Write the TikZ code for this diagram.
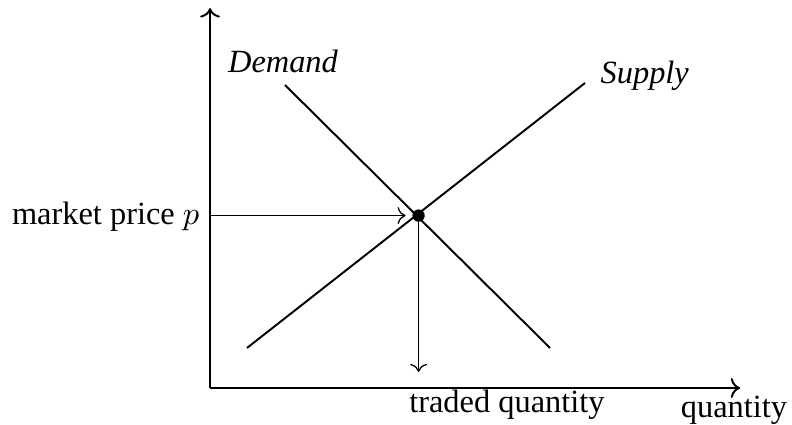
\documentclass[tikz,border=0pt]{standalone}
\usepackage{fontspec}
\setmainfont{Liberation Serif}
\usepackage{tikz}
\usetikzlibrary{arrows.meta}

\begin{document}
\begin{tikzpicture}[every node/.style={font=\normalsize, inner sep=0pt}, axis/.style={semithick, ->}, curve/.style={semithick}, guide/.style={->}]
	\useasboundingbox (-2.278,-0.401) rectangle (6.312,4.208);
	\coordinate (O) at (0,0);
	\coordinate (ytop) at (0,4.12);
	\coordinate (xend) at (5.75,0);
	\coordinate (E) at (2.262,1.87);
	% axes
	\draw[axis] (O) -- (ytop);
	\draw[axis] (O) -- (xend);
	\node[anchor=base] (qlabel) at (5.683,-0.315) {quantity};
	% demand and supply
	\coordinate (d1) at (0.813,3.286);
	\coordinate (d2) at (3.688,0.434);
	\coordinate (s1) at (0.401,0.434);
	\coordinate (s2) at (4.067,3.308);
	\draw[curve] (d1) -- (d2);
	\draw[curve] (s1) -- (s2);
	\node[anchor=base] (dem) at (0.792,3.427) {\textit{Demand}};
	\node[anchor=base west] (sup) at (4.23,3.3) {\textit{Supply}};
	\fill (E) circle (1.9pt);
	% market price and traded quantity
	\coordinate (pmark) at (O |- E);
	\node[anchor=base east] (price) at (-0.11,1.768) {market price $p$};
	\draw[guide, shorten >=4pt] (pmark) -- (E);
	\draw[guide, shorten >=0.174cm] (E) -- (E |- O);
	\node[anchor=base] (traded) at (3.22,-0.27) {traded quantity};
\end{tikzpicture}
\end{document}
